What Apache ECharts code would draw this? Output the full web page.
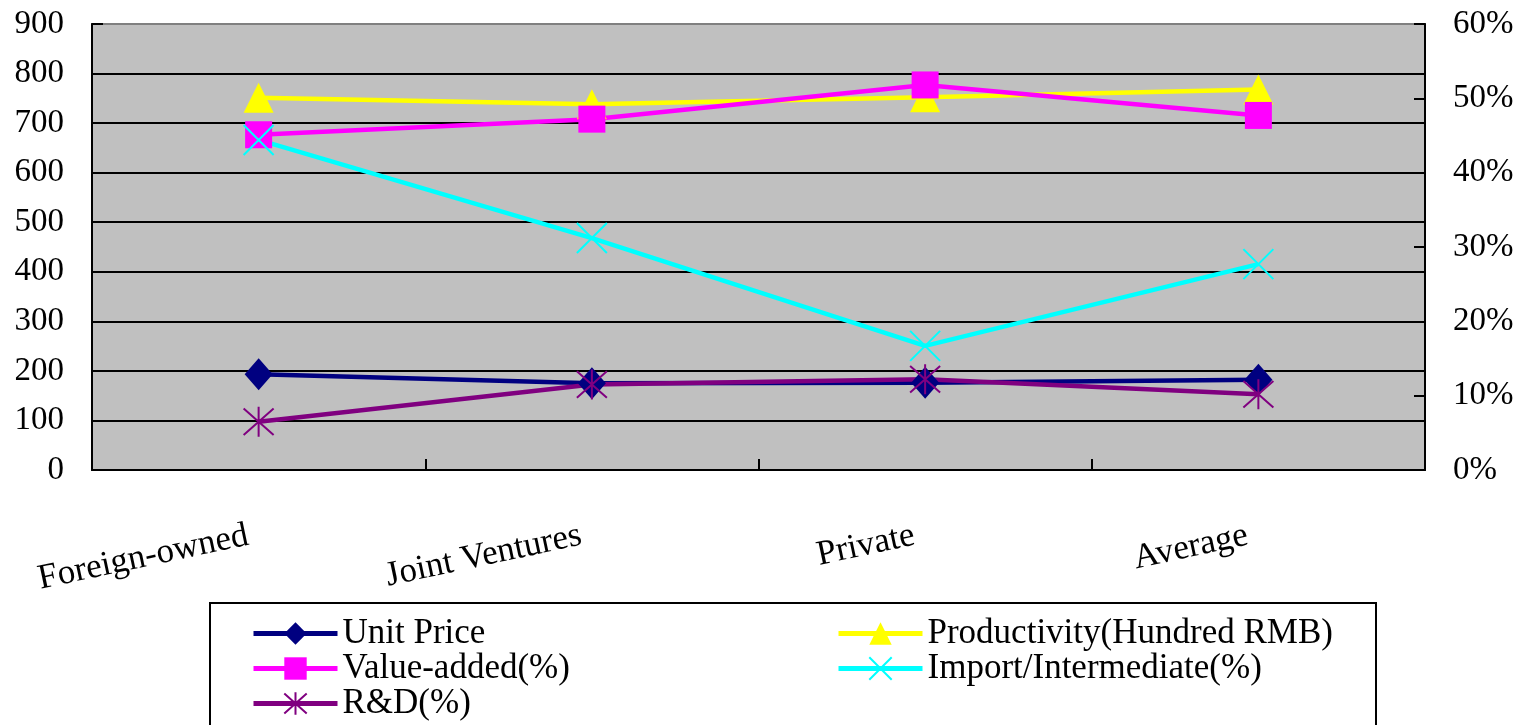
<!DOCTYPE html>
<html>
<head>
<meta charset="utf-8">
<title>Enterprise indicators by ownership type</title>
<script src="https://cdn.jsdelivr.net/npm/echarts@6/dist/echarts.min.js"></script>
<style>
  html, body { margin: 0; padding: 0; background: #ffffff; }
  #chart { width: 1521px; height: 725px; }
</style>
</head>
<body>
<div id="chart"></div>
<script>
// Ownership categories along the horizontal axis
const categories = ['Foreign-owned', 'Joint Ventures', 'Private', 'Average'];

// Left axis series (absolute values)
const unitPrice = [193, 175, 176, 182];
const productivity = [751, 738, 752, 768];

// Right axis series (percent)
const valueAdded = [45.1, 47.2, 51.8, 47.7];
const importShare = [44.4, 31.2, 16.7, 27.7];
const rdShare = [6.5, 11.5, 12.2, 10.2];

// Axis ranges
const leftTicks = { min: 0, max: 900, step: 100 };
const rightTicks = { min: 0, max: 60, step: 10 };

const FONT = 'Liberation Serif';
const xMark = 'path://M0,0L30,30M30,0L0,30';
const starMark = 'path://M0,0L30,30M30,0L0,30M15,-2L15,32';

const chart = echarts.init(document.getElementById('chart'), null, { renderer: 'canvas' });

function lineSeries(name, data, color, axis, symbol, size, stroked) {
  return {
    name: name,
    type: 'line',
    yAxisIndex: axis,
    data: data,
    symbol: symbol,
    symbolSize: size,
    showAllSymbol: true,
    animation: false,
    lineStyle: { color: color, width: 4.5 },
    itemStyle: stroked
      ? { color: color, borderColor: color, borderWidth: 2 }
      : { color: color, borderWidth: 0 },
    emphasis: { disabled: true }
  };
}

const legendText = { fontFamily: FONT, fontSize: 35, color: '#000', lineHeight: 34 };

chart.setOption({
  animation: false,
  textStyle: { fontFamily: FONT },
  grid: {
    left: 92, right: 96, top: 24, bottom: 255,
    show: true,
    backgroundColor: '#C0C0C0',
    borderColor: '#808080',
    borderWidth: 2,
    outerBoundsMode: 'none'
  },
  graphic: [{
    type: 'rect',
    z: 0,
    shape: { x: 210, y: 603, width: 1166, height: 150 },
    style: { fill: '#ffffff', stroke: '#000000', lineWidth: 2 }
  }],
  legend: [{
    orient: 'vertical',
    left: 251, top: 616,
    itemWidth: 84, itemHeight: 28, itemGap: 0,
    padding: 0,
    data: ['Unit Price', 'Value-added(%)', 'R&D(%)'],
    textStyle: legendText,
    lineStyle: { width: 5 },
    selectedMode: false
  }, {
    orient: 'vertical',
    left: 836, top: 616,
    itemWidth: 84, itemHeight: 28, itemGap: 0,
    padding: 0,
    data: ['Productivity(Hundred RMB)', 'Import/Intermediate(%)'],
    textStyle: legendText,
    lineStyle: { width: 5 },
    selectedMode: false
  }],
  xAxis: {
    type: 'category',
    data: categories,
    boundaryGap: true,
    axisLine: { show: true, lineStyle: { color: '#000', width: 2 } },
    axisTick: { show: true, inside: true, length: 11, interval: 0, lineStyle: { color: '#000', width: 2 } },
    axisLabel: {
      rotate: 12, margin: 63, interval: 0,
      fontFamily: FONT, fontSize: 35, color: '#000',
      padding: [0, 11, 0, 0]
    },
    splitLine: { show: false }
  },
  yAxis: [{
    type: 'value',
    position: 'left',
    min: leftTicks.min, max: leftTicks.max, interval: leftTicks.step,
    axisLine: { show: true, lineStyle: { color: '#000', width: 2 } },
    axisTick: { show: true, inside: true, length: 11, lineStyle: { color: '#000', width: 2 } },
    axisLabel: { margin: 28, fontFamily: FONT, fontSize: 33, color: '#000' },
    splitLine: { show: true, showMaxLine: false, showMinLine: false, lineStyle: { color: '#000', width: 2 } }
  }, {
    type: 'value',
    position: 'right',
    min: rightTicks.min, max: rightTicks.max, interval: rightTicks.step,
    axisLine: { show: true, lineStyle: { color: '#000', width: 2 } },
    axisTick: { show: true, inside: true, length: 11, lineStyle: { color: '#000', width: 2 } },
    axisLabel: { margin: 28, fontFamily: FONT, fontSize: 33, color: '#000', formatter: '{value}%' },
    splitLine: { show: false }
  }],
  series: [
    lineSeries('Unit Price', unitPrice, '#000080', 0, 'diamond', [28, 32], false),
    lineSeries('Productivity(Hundred RMB)', productivity, '#FFFF00', 0, 'triangle', 30, false),
    lineSeries('Value-added(%)', valueAdded, '#FF00FF', 1, 'rect', 27, false),
    lineSeries('Import/Intermediate(%)', importShare, '#00FFFF', 1, xMark, 30, true),
    lineSeries('R&D(%)', rdShare, '#800080', 1, starMark, 30, true)
  ]
});
</script>
</body>
</html>
